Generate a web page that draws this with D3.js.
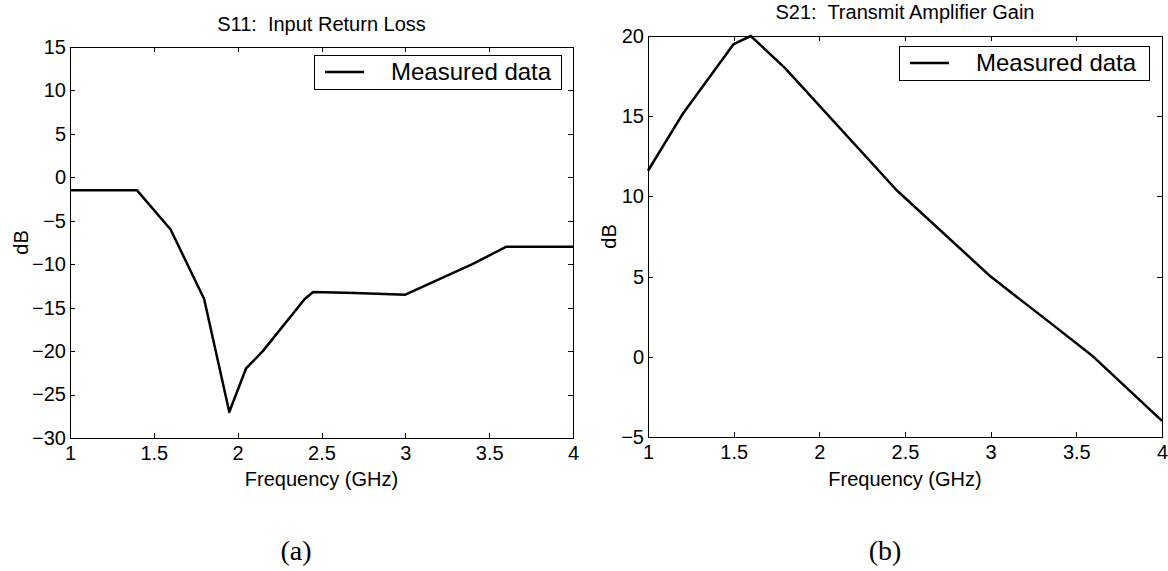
<!DOCTYPE html>
<html>
<head>
<meta charset="utf-8">
<script src="https://cdn.jsdelivr.net/npm/d3@7"></script>
<style>
  html, body { margin: 0; padding: 0; background: #fff; }
  svg { display: block; }
  text { font-family: "Liberation Sans", Arial, Helvetica, sans-serif; fill: #000; white-space: pre; }
  .cap { font-family: "Liberation Serif", "DejaVu Serif", serif; }
</style>
</head>
<body>
<svg id="chart" width="1168" height="571"></svg>
<script>
// ---- Data ----
const freqTicks = [1, 1.5, 2, 2.5, 3, 3.5, 4];

const s11Freq = [1.0, 1.4, 1.6, 1.8, 1.95, 2.05, 2.15, 2.4, 2.45, 2.7, 3.0, 3.4, 3.6, 4.0];
const s11Db   = [-1.5, -1.5, -6, -14, -27, -22, -20, -14, -13.2, -13.3, -13.5, -10, -8, -8];
const s11Ticks = [-30, -25, -20, -15, -10, -5, 0, 5, 10, 15];

const s21Freq = [1.0, 1.2, 1.5, 1.6, 1.8, 2.45, 3.0, 3.35, 3.6, 4.0];
const s21Db   = [11.6, 15.1, 19.5, 20, 18, 10.4, 5.0, 2.1, 0, -4];
const s21Ticks = [-5, 0, 5, 10, 15, 20];

const titles = ["S11:  Input Return Loss", "S21:  Transmit Amplifier Gain"];
const captions = ["(a)", "(b)"];
const xLabel = "Frequency (GHz)";
const yLabel = "dB";
const legendLabel = "Measured data";

// ---- Layout ----
const svg = d3.select("#chart");
const fmt = d => String(d).replace("-", "\u2212");

const panels = [
  { left: 70, right: 573, top: 47, bottom: 438, yDomain: [-30, 15], yTicks: s11Ticks,
    fx: s11Freq, fy: s11Db, title: titles[0], titleY: 31, caption: captions[0], capX: 296,
    yLabX: 28, legend: { x: 314, y: 55, w: 247 } },
  { left: 648, right: 1162, top: 36, bottom: 437, yDomain: [-5, 20], yTicks: s21Ticks,
    fx: s21Freq, fy: s21Db, title: titles[1], titleY: 19, caption: captions[1], capX: 885,
    yLabX: 616, legend: { x: 899, y: 46, w: 250 } }
];

panels.forEach(p => {
  const x = d3.scaleLinear().domain([1, 4]).range([p.left, p.right]);
  const y = d3.scaleLinear().domain(p.yDomain).range([p.bottom, p.top]);
  const g = svg.append("g");

  // axes (ticks inside, MATLAB style)
  const ax = [
    g.append("g").attr("transform", `translate(0,${p.bottom})`)
      .call(d3.axisBottom(x).tickValues(freqTicks).tickSizeInner(-5).tickSizeOuter(0).tickPadding(8).tickFormat(fmt)),
    g.append("g").attr("transform", `translate(0,${p.top})`)
      .call(d3.axisTop(x).tickValues(freqTicks).tickSizeInner(-5).tickSizeOuter(0).tickFormat("")),
    g.append("g").attr("transform", `translate(${p.left},0)`)
      .call(d3.axisLeft(y).tickValues(p.yTicks).tickSizeInner(-5).tickSizeOuter(0).tickPadding(4).tickFormat(fmt)),
    g.append("g").attr("transform", `translate(${p.right},0)`)
      .call(d3.axisRight(y).tickValues(p.yTicks).tickSizeInner(-5).tickSizeOuter(0).tickFormat(""))
  ];
  ax.forEach(a => {
    a.selectAll("path.domain").attr("stroke", "#000").attr("stroke-width", 1).attr("shape-rendering", "crispEdges");
    a.selectAll(".tick line").attr("stroke", "#000").attr("stroke-width", 1).attr("shape-rendering", "crispEdges");
    a.selectAll("text").attr("font-size", 20).attr("font-family", "Liberation Sans, Arial, sans-serif").attr("fill", "#000");
  });

  // data line
  const pts = p.fx.map((f, i) => [f, p.fy[i]]);
  g.append("path")
    .datum(pts)
    .attr("fill", "none")
    .attr("stroke", "#000")
    .attr("stroke-width", 2.5)
    .attr("stroke-linejoin", "round")
    .attr("d", d3.line().x(d => x(d[0])).y(d => y(d[1])));

  // title
  g.append("text")
    .attr("x", (p.left + p.right) / 2).attr("y", p.titleY)
    .attr("text-anchor", "middle").attr("font-size", 20)
    .text(p.title);

  // x label
  g.append("text")
    .attr("x", (p.left + p.right) / 2).attr("y", 486)
    .attr("text-anchor", "middle").attr("font-size", 20)
    .text(xLabel);

  // y label
  g.append("text")
    .attr("transform", `translate(${p.yLabX},${(p.top + p.bottom) / 2}) rotate(-90)`)
    .attr("text-anchor", "middle").attr("font-size", 20)
    .text(yLabel);

  // legend
  const L = p.legend;
  const lg = g.append("g").attr("transform", `translate(${L.x},${L.y})`);
  lg.append("rect").attr("width", L.w).attr("height", 34)
    .attr("fill", "#fff").attr("stroke", "#000").attr("stroke-width", 1)
    .attr("shape-rendering", "crispEdges");
  lg.append("line").attr("x1", 11).attr("x2", 50).attr("y1", 17).attr("y2", 17)
    .attr("stroke", "#000").attr("stroke-width", 2.5);
  lg.append("text").attr("x", 77).attr("y", 25).attr("font-size", 24).text(legendLabel);

  // caption
  svg.append("text").attr("class", "cap")
    .attr("x", p.capX).attr("y", 560)
    .attr("text-anchor", "middle").attr("font-size", 28)
    .text(p.caption);
});
</script>
</body>
</html>
